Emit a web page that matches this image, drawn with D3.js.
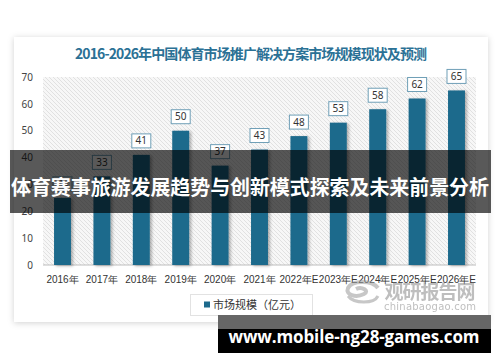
<!DOCTYPE html>
<html lang="zh">
<head>
<meta charset="UTF-8">
<title>中国体育市场推广解决方案市场规模</title>
<script src="https://d3js.org/d3.v7.min.js"></script>
<style>
    body { margin: 0; background: #fff; }
    svg { display: block; font-family: "Noto Sans CJK SC", "Noto Sans", sans-serif; }
</style>
</head>
<body>
<script>
// chart data
const years = ["2016年", "2017年", "2018年", "2019年", "2020年", "2021年",
               "2022年E", "2023年E", "2024年E", "2025年E", "2026年E"];
const marketSize = [25, 33, 41, 50, 37, 43, 48, 53, 58, 62, 65];
const yTicks = [0, 10, 20, 30, 40, 50, 60, 70];
const chartTitle = "2016-2026年中国体育市场推广解决方案市场规模现状及预测";
const legendLabel = "市场规模（亿元）";
const overlayTitle = "体育赛事旅游发展趋势与创新模式探索及未来前景分析";
const siteUrl = "www.mobile-ng28-games.com";

const width = 500, height = 362;
const barColor = "#1d6a8c";

const svg = d3.select("body").append("svg")
    .attr("width", width)
    .attr("height", height);

const defs = svg.append("defs");

// card shadow
const cardShadow = defs.append("filter").attr("id", "cardShadow")
    .attr("x", "-5%").attr("y", "-5%").attr("width", "110%").attr("height", "110%");
cardShadow.append("feDropShadow")
    .attr("dx", 0).attr("dy", 1).attr("stdDeviation", 3)
    .attr("flood-color", "#000").attr("flood-opacity", 0.18);

// bar shadow
const barShadow = defs.append("filter").attr("id", "barShadow")
    .attr("x", "-50%").attr("y", "-10%").attr("width", "200%").attr("height", "120%");
barShadow.append("feDropShadow")
    .attr("dx", 2).attr("dy", 1).attr("stdDeviation", 1.5)
    .attr("flood-color", "#000").attr("flood-opacity", 0.3);

// hatch pattern for plot background
const hatch = defs.append("pattern").attr("id", "hatch")
    .attr("patternUnits", "userSpaceOnUse")
    .attr("width", 4).attr("height", 4);
hatch.append("rect").attr("width", 4).attr("height", 4).attr("fill", "#f7f7f7");
hatch.append("path")
    .attr("d", "M-1,-1 L5,5 M-1,3 L1,5 M3,-1 L5,1")
    .attr("stroke", "#dcdcdc").attr("stroke-width", 0.8);

// white card
svg.append("rect")
    .attr("x", 14).attr("y", 37)
    .attr("width", 474).attr("height", 285)
    .attr("fill", "#fff")
    .attr("filter", "url(#cardShadow)");

svg.append("text")
    .attr("x", 251).attr("y", 59)
    .attr("text-anchor", "middle")
    .attr("font-size", 14)
    .attr("font-weight", "bold")
    .attr("fill", "#2b7195")
    .attr("textLength", 352)
    .text(chartTitle);

// scales
const x = d3.scaleBand().domain(years).range([43, 476]).paddingInner(0.57).paddingOuter(0.28);
const y = d3.scaleLinear().domain([0, 70]).range([265, 77]);

svg.append("rect")
    .attr("x", 43).attr("y", y(70))
    .attr("width", 433).attr("height", y(0) - y(70))
    .attr("fill", "url(#hatch)");

// y axis labels
const yAxis = svg.append("g")
    .attr("transform", "translate(43,0)")
    .call(d3.axisLeft(y).tickValues(yTicks).tickSize(0).tickPadding(10));
yAxis.select(".domain").remove();
yAxis.selectAll("text").attr("font-size", 10).attr("fill", "#444")
    .attr("font-family", "'Noto Sans', sans-serif");

// baseline
svg.append("line")
    .attr("x1", 43).attr("x2", 476)
    .attr("y1", y(0)).attr("y2", y(0))
    .attr("stroke", "#bdbdbd");

// bars
svg.append("g").selectAll("rect")
    .data(marketSize)
    .join("rect")
    .attr("x", (d, i) => x(years[i]))
    .attr("y", d => y(d))
    .attr("width", x.bandwidth())
    .attr("height", d => y(0) - y(d))
    .attr("fill", barColor)
    .attr("filter", "url(#barShadow)");

// value labels
const lbl = svg.append("g").selectAll("g")
    .data(marketSize)
    .join("g")
    .attr("transform", (d, i) => `translate(${x(years[i]) + x.bandwidth() / 2},${y(d) - 14})`);
lbl.append("rect")
    .attr("x", -9.5).attr("y", -7)
    .attr("width", 19).attr("height", 14)
    .attr("fill", "#fff")
    .attr("stroke", "#6f9fb7");
lbl.append("text")
    .attr("text-anchor", "middle")
    .attr("dy", "0.36em")
    .attr("font-size", 10)
    .attr("fill", "#333")
    .attr("font-family", "'Noto Sans', sans-serif")
    .text(d => d);

// x axis labels
const xAxis = svg.append("g")
    .attr("transform", `translate(0,${y(0)})`)
    .call(d3.axisBottom(x).tickSize(0).tickPadding(11));
xAxis.select(".domain").remove();
xAxis.selectAll("text").attr("font-size", 10).attr("fill", "#333");

// legend
svg.append("rect")
    .attr("x", 190.5).attr("y", 294.5)
    .attr("width", 122).attr("height", 21)
    .attr("fill", "#fff").attr("stroke", "#e2e2e2");
svg.append("rect")
    .attr("x", 204).attr("y", 301.5)
    .attr("width", 6).attr("height", 6)
    .attr("fill", barColor);
svg.append("text")
    .attr("x", 213).attr("y", 305)
    .attr("dy", "0.35em")
    .attr("font-size", 11)
    .attr("fill", "#333")
    .text(legendLabel);

// source watermark
const wm = svg.append("g").attr("opacity", 0.55);
wm.append("path")
    .attr("d", "M378,288 C372,280 352,280 348,288 C345,295 356,298 364,294 C370,291 362,286 356,289")
    .attr("fill", "none").attr("stroke", "#9a9a9a").attr("stroke-width", 4);
wm.append("path")
    .attr("d", "M348,296 C354,304 374,304 378,296")
    .attr("fill", "none").attr("stroke", "#9a9a9a").attr("stroke-width", 3);
wm.append("text")
    .attr("x", 430).attr("y", 299)
    .attr("text-anchor", "middle")
    .attr("font-size", 19).attr("font-weight", "bold")
    .attr("fill", "#8a8a8a")
    .attr("textLength", 91)
    .text("观研报告网");
wm.append("text")
    .attr("x", 430).attr("y", 310)
    .attr("text-anchor", "middle")
    .attr("font-size", 10)
    .attr("fill", "#8a8a8a")
    .attr("textLength", 92)
    .attr("font-family", "'DejaVu Sans', sans-serif")
    .text("chinabaogao.com");

// dark overlay band with headline
svg.append("rect")
    .attr("x", 10).attr("y", 150)
    .attr("width", 481).attr("height", 63)
    .attr("fill", "#000").attr("opacity", 0.65);
svg.append("text")
    .attr("x", 250).attr("y", 186)
    .attr("text-anchor", "middle")
    .attr("dominant-baseline", "central")
    .attr("font-size", 20).attr("font-weight", "bold")
    .attr("fill", "#fff")
    .attr("textLength", 478)
    .text(overlayTitle);

// url band
svg.append("rect")
    .attr("x", 218).attr("y", 315)
    .attr("width", 273).attr("height", 14)
    .attr("fill", "#666");
svg.append("rect")
    .attr("x", 218).attr("y", 329)
    .attr("width", 273).attr("height", 24)
    .attr("fill", "#000");
svg.append("text")
    .attr("x", 354).attr("y", 336)
    .attr("text-anchor", "middle")
    .attr("dominant-baseline", "central")
    .attr("font-size", 17).attr("font-weight", "bold")
    .attr("fill", "#fff")
    .attr("font-family", "'Open Sans', 'DejaVu Sans', sans-serif")
    .attr("textLength", 251)
    .text(siteUrl);
</script>
</body>
</html>
